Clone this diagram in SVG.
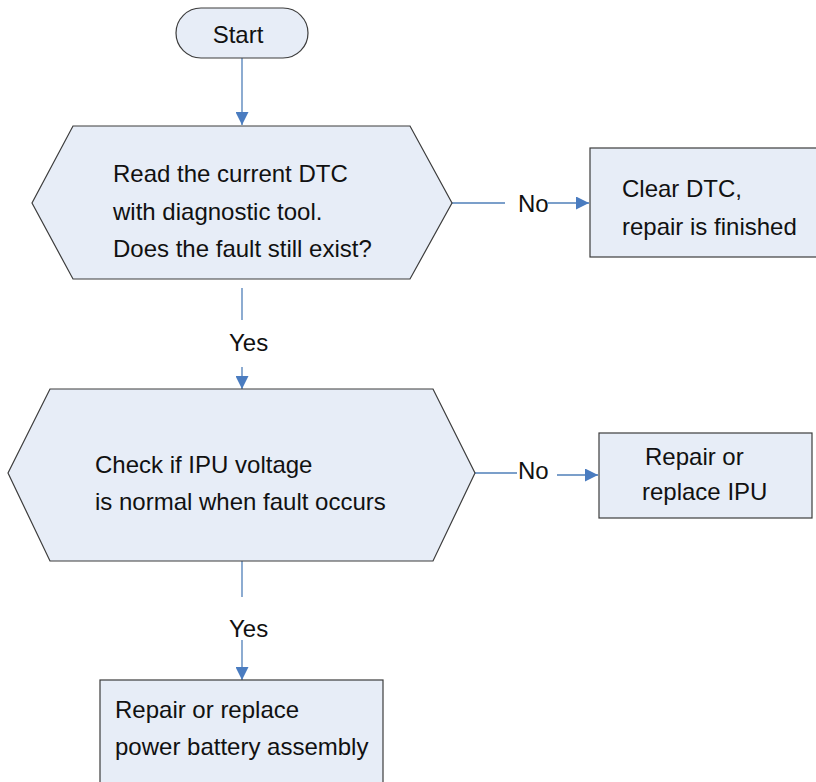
<svg xmlns="http://www.w3.org/2000/svg" width="816" height="782" viewBox="0 0 816 782">
  <style>
    .shape { fill: #e7edf7; stroke: #3c3c3c; stroke-width: 1.2; }
    .label { font-family: "Liberation Sans", Arial, sans-serif; font-size: 24px; fill: #111; }
    .wire { fill: none; stroke: #4f7fb8; stroke-width: 1.3; }
    .arrow { fill: none; stroke: #4f7fb8; stroke-width: 1.3; marker-end: url(#head); }
  </style>
  <defs>
    <marker id="head" viewBox="0 0 10 10" refX="10" refY="5" markerWidth="14" markerHeight="13" markerUnits="userSpaceOnUse" orient="auto">
      <path d="M0,0 L10,5 L0,10 z" fill="#4a7cc0"/>
    </marker>
  </defs>
  <rect width="816" height="782" fill="#ffffff"/>

  <!-- connectors -->
  <g id="connectors">
    <path class="arrow" d="M242,58 L242,125"/>
    <path class="wire" d="M452,203 L505,203"/>
    <path class="arrow" d="M548,203 L589,203"/>
    <path class="wire" d="M242,288 L242,320"/>
    <path class="arrow" d="M242,367 L242,389"/>
    <path class="wire" d="M475,473 L517,473"/>
    <path class="arrow" d="M557,475 L598,475"/>
    <path class="wire" d="M242,561 L242,597"/>
    <path class="arrow" d="M242,640 L242,680"/>
    <text class="label" x="518" y="212">No</text>
    <text class="label" x="229" y="351">Yes</text>
    <text class="label" x="518" y="479">No</text>
    <text class="label" x="229" y="637">Yes</text>
  </g>

  <g id="start">
    <rect class="shape" x="176" y="8" width="132" height="50" rx="25" ry="25"/>
    <text class="label" x="238" y="43" text-anchor="middle">Start</text>
  </g>

  <g id="check-dtc">
    <polygon class="shape" points="73,126 410,126 452,203 410,279 73,279 32,203"/>
    <text class="label" x="113" y="182">Read the current DTC</text>
    <text class="label" x="113" y="220">with diagnostic tool.</text>
    <text class="label" x="113" y="257">Does the fault still exist?</text>
  </g>

  <g id="clear-dtc">
    <rect class="shape" x="590" y="148" width="228" height="109"/>
    <text class="label" x="622" y="197">Clear DTC,</text>
    <text class="label" x="622" y="235">repair is finished</text>
  </g>

  <g id="check-ipu">
    <polygon class="shape" points="50,389 433,389 475,473 433,561 50,561 8,473"/>
    <text class="label" x="95" y="473">Check if IPU voltage</text>
    <text class="label" x="95" y="510">is normal when fault occurs</text>
  </g>

  <g id="replace-ipu">
    <rect class="shape" x="599" y="433" width="213" height="85"/>
    <text class="label" x="645" y="465">Repair or</text>
    <text class="label" x="642" y="500">replace IPU</text>
  </g>

  <g id="replace-battery">
    <rect class="shape" x="100" y="680" width="283" height="110"/>
    <text class="label" x="115" y="718">Repair or replace</text>
    <text class="label" x="115" y="755">power battery assembly</text>
  </g>
</svg>
